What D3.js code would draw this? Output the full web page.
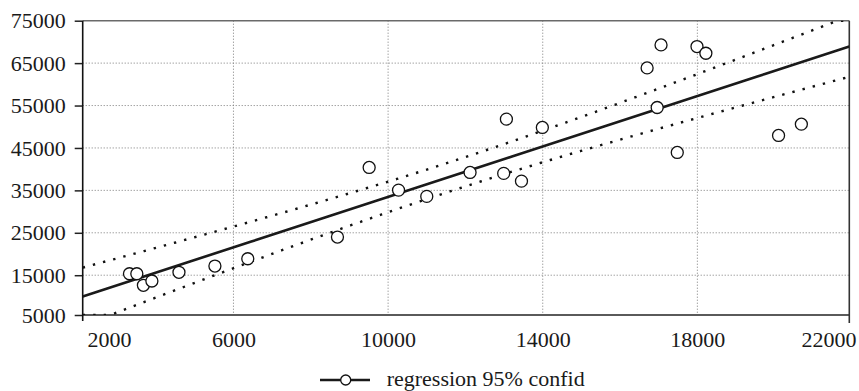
<!DOCTYPE html>
<html>
<head>
<meta charset="utf-8">
<script src="https://cdn.jsdelivr.net/npm/d3@7"></script>
<style>
  body { margin: 0; background: #fff; }
  text { font-family: "Liberation Serif", "Times New Roman", serif; fill: #1a1a1a; }
</style>
</head>
<body>
<svg id="chart"></svg>
<script>
const xValues = [3310, 3500, 3670, 3890, 4590, 5520, 6370, 8690, 9510, 10270, 11000, 12120,
  12990, 13060, 13450, 13990, 16700, 16960, 17060, 17480, 17990, 18220, 20100, 20690];
const yValues = [15350, 15350, 12620, 13630, 15680, 17160, 18880, 23990, 40410, 35060, 33580, 39230,
  39000, 51790, 37180, 49830, 63870, 54540, 69290, 43940, 68910, 67330, 47950, 50610];

const xTicks = [2000, 6000, 10000, 14000, 18000, 22000];
const yTicks = [5000, 15000, 25000, 35000, 45000, 55000, 65000, 75000];
const xDomain = [2100, 21930];
const yDomain = [5620, 75000];
const legendLabel = 'regression 95% confid';

const W = 859, H = 391;
const margin = { top: 20.7, right: 9.7, bottom: 76, left: 82.7 };
const width = W - margin.left - margin.right;
const height = H - margin.top - margin.bottom;

const root = d3.select('#chart').attr('width', W).attr('height', H);
const svg = root.append('g').attr('transform', `translate(${margin.left},${margin.top})`);

const x = d3.scaleLinear().domain(xDomain).range([0, width]).clamp(true);
const y = d3.scaleLinear().domain(yDomain).range([height, 0]).clamp(true);

// least squares fit + 95% confidence band of the mean
const n = xValues.length;
const xm = d3.mean(xValues), ym = d3.mean(yValues);
const sxx = d3.sum(xValues, d => (d - xm) ** 2);
const sxy = d3.sum(xValues, (d, i) => (d - xm) * (yValues[i] - ym));
const b = sxy / sxx, a = ym - b * xm;
const sse = d3.sum(xValues, (d, i) => (yValues[i] - (a + b * d)) ** 2);
const s = Math.sqrt(sse / (n - 2));
const tCrit = 2.074; // t(0.975, 22)
const band = d3.range(0, 101).map(i => {
  const xv = xDomain[0] + (xDomain[1] - xDomain[0]) * i / 100;
  const fit = a + b * xv;
  const hw = tCrit * s * Math.sqrt(1 / n + (xv - xm) ** 2 / sxx);
  return { x: xv, fit, lo: fit - hw, hi: fit + hw };
});

root.append('defs').append('clipPath').attr('id', 'plot-clip')
  .append('rect').attr('width', width).attr('height', height);

// grid
svg.append('g')
  .selectAll('line')
  .data(yTicks.filter(v => v > yDomain[0] && v < yDomain[1]))
  .join('line')
  .attr('x1', 0).attr('x2', width)
  .attr('y1', d => y(d)).attr('y2', d => y(d))
  .attr('stroke', '#7a7a7a').attr('stroke-width', 1)
  .attr('stroke-dasharray', '1,2');

svg.append('g')
  .selectAll('line')
  .data(xTicks.filter(v => v > xDomain[0] && v < xDomain[1]))
  .join('line')
  .attr('x1', d => x(d)).attr('x2', d => x(d))
  .attr('y1', 0).attr('y2', height)
  .attr('stroke', '#7a7a7a').attr('stroke-width', 1)
  .attr('stroke-dasharray', '1,2');

// Y axis
const yAxis = svg.append('g')
  .call(d3.axisLeft(y).tickValues(yTicks).tickSize(8).tickPadding(9).tickFormat(d3.format('d')));
yAxis.select('.domain').remove();
yAxis.selectAll('line').attr('stroke', '#222').attr('stroke-width', 1.5);
yAxis.selectAll('text').style('font-size', '22px').attr('fill', '#1a1a1a');

// X axis
const xAxis = svg.append('g')
  .attr('transform', `translate(0,${height})`)
  .call(d3.axisBottom(x).tickValues(xTicks).tickSize(0).tickPadding(16).tickFormat(d3.format('d')));
xAxis.select('.domain').remove();
xAxis.selectAll('text').style('font-size', '22px').attr('fill', '#1a1a1a');
xAxis.selectAll('text').filter(d => d === xTicks[0]).attr('text-anchor', 'start').attr('x', 4.3);
xAxis.selectAll('text').filter(d => d === xTicks[xTicks.length - 1]).attr('text-anchor', 'end').attr('x', 6.7);

// frame
svg.append('line').attr('x1', 0).attr('x2', width).attr('y1', 0).attr('y2', 0)
  .attr('stroke', '#6a6a6a').attr('stroke-width', 1.5);
svg.append('line').attr('x1', 0).attr('x2', width).attr('y1', height).attr('y2', height)
  .attr('stroke', '#5a5a5a').attr('stroke-width', 2);
svg.append('line').attr('x1', 0).attr('x2', 0).attr('y1', 0).attr('y2', height + 6)
  .attr('stroke', '#111').attr('stroke-width', 1.6);
svg.append('line').attr('x1', width).attr('x2', width).attr('y1', 0).attr('y2', height + 8)
  .attr('stroke', '#333').attr('stroke-width', 1.6);

const plot = svg.append('g').attr('clip-path', 'url(#plot-clip)');

// confidence band (dotted)
['lo', 'hi'].forEach(k => {
  plot.append('path')
    .datum(band)
    .attr('fill', 'none')
    .attr('stroke', '#111')
    .attr('stroke-width', 2.4)
    .attr('stroke-dasharray', '2.4,8.1')
    .attr('d', d3.line().x(d => x(d.x)).y(d => y(d[k])));
});

// fitted line
plot.append('path')
  .datum(band)
  .attr('fill', 'none')
  .attr('stroke', '#1a1a1a')
  .attr('stroke-width', 2.6)
  .attr('d', d3.line().x(d => x(d.x)).y(d => y(d.fit)));

// observations
svg.append('g')
  .selectAll('circle')
  .data(xValues.map((v, i) => ({ x: v, y: yValues[i] })))
  .join('circle')
  .attr('cx', d => x(d.x))
  .attr('cy', d => y(d.y))
  .attr('r', 6)
  .attr('fill', '#fff')
  .attr('stroke', '#111')
  .attr('stroke-width', 1.3);

// legend
const legend = root.append('g').attr('transform', 'translate(320,380)');
legend.append('line').attr('x1', 0).attr('x2', 50).attr('y1', 0).attr('y2', 0)
  .attr('stroke', '#1a1a1a').attr('stroke-width', 2.6);
legend.append('circle').attr('cx', 25.7).attr('cy', 0).attr('r', 5)
  .attr('fill', '#fff').attr('stroke', '#111').attr('stroke-width', 1.3);
legend.append('text').attr('x', 66.7).attr('y', 6.3)
  .style('font-size', '22px')
  .text(legendLabel);
</script>
</body>
</html>
